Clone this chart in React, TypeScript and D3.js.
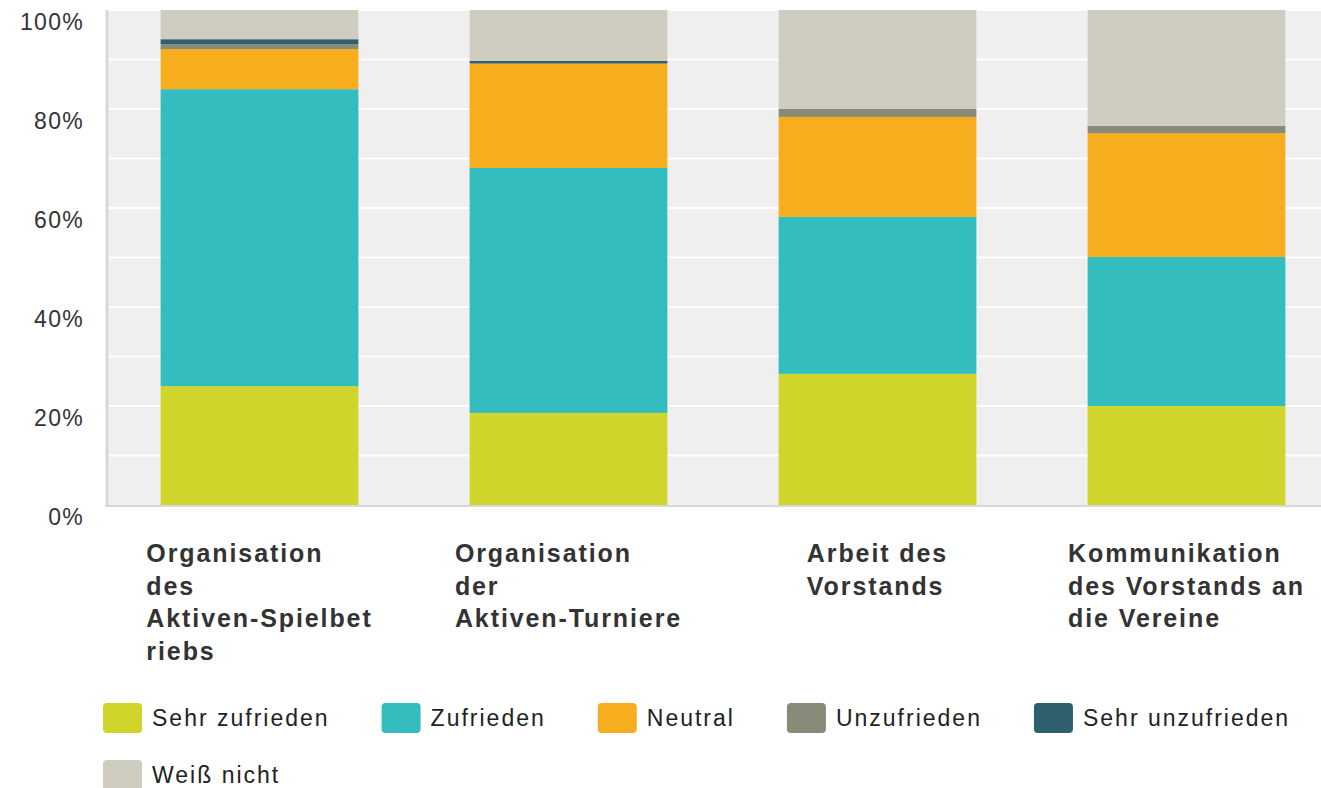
import React, { useEffect, useRef } from "react";
import * as d3 from "d3";

const categories = [
  ["Organisation", "des", "Aktiven-Spielbet", "riebs"],
  ["Organisation", "der", "Aktiven-Turniere"],
  ["Arbeit des", "Vorstands"],
  ["Kommunikation", "des Vorstands an", "die Vereine"],
];

const seriesNames = [
  "Sehr zufrieden",
  "Zufrieden",
  "Neutral",
  "Unzufrieden",
  "Sehr unzufrieden",
  "Weiß nicht",
];

const sehrZufrieden = [24.0, 18.6, 26.5, 20.0];
const zufrieden = [60.0, 49.5, 31.7, 30.1];
const neutral = [8.1, 21.0, 20.2, 25.0];
const unzufrieden = [1.0, 0.2, 1.6, 1.5];
const sehrUnzufrieden = [1.0, 0.4, 0, 0];
const weissNicht = [5.9, 10.3, 20.0, 23.4];

const yTicks = [0, 20, 40, 60, 80, 100];
const colors = ["#cfd52a", "#33bdbf", "#f6ae1f", "#8a8a78", "#2f5f6c", "#cfcdbf"];

const width = 1321;
const height = 788;
const margin = { top: 10, left: 108, bottom: 505 };

const App = () => {
  const ref = useRef<SVGSVGElement>(null);

  useEffect(() => {
    const svg = d3.select(ref.current);
    svg.selectAll("*").remove();

    const series = [sehrZufrieden, zufrieden, neutral, unzufrieden, sehrUnzufrieden, weissNicht];
    const rows = categories.map((c, i) => {
      const r: any = { idx: i };
      seriesNames.forEach((s, j) => (r[s] = series[j][i]));
      return r;
    });
    const stacked = d3.stack().keys(seriesNames)(rows);

    const x = d3
      .scaleBand()
      .domain(categories.map((_, i) => String(i)))
      .range([105, 1341])
      .paddingInner(0.36)
      .paddingOuter(0.18);
    const y = d3.scaleLinear().domain([0, 100]).range([margin.bottom, margin.top]);

    // plot background + grid
    svg
      .append("rect")
      .attr("x", margin.left)
      .attr("y", margin.top)
      .attr("width", width - margin.left)
      .attr("height", margin.bottom - margin.top)
      .attr("fill", "#efefef");

    svg
      .append("g")
      .selectAll("line")
      .data(d3.range(10, 101, 10))
      .enter()
      .append("line")
      .attr("x1", margin.left)
      .attr("x2", width)
      .attr("y1", (d) => y(d))
      .attr("y2", (d) => y(d))
      .attr("stroke", "#fff")
      .attr("stroke-width", 2);

    // bars
    svg
      .append("g")
      .selectAll("g")
      .data(stacked)
      .enter()
      .append("g")
      .attr("fill", (_, i) => colors[i])
      .selectAll("rect")
      .data((d) => d)
      .enter()
      .append("rect")
      .attr("x", (d: any) => x(String(d.data.idx)))
      .attr("width", x.bandwidth())
      .attr("y", (d) => y(d[1]))
      .attr("height", (d) => y(d[0]) - y(d[1]));

    // axis lines
    svg
      .append("line")
      .attr("x1", 107)
      .attr("x2", 107)
      .attr("y1", margin.top)
      .attr("y2", margin.bottom + 2)
      .attr("stroke", "#d8d8d8")
      .attr("stroke-width", 3);
    svg
      .append("line")
      .attr("x1", 105)
      .attr("x2", width)
      .attr("y1", margin.bottom + 1)
      .attr("y2", margin.bottom + 1)
      .attr("stroke", "#d8d8d8")
      .attr("stroke-width", 2);

    // y tick labels
    svg
      .append("g")
      .selectAll("text")
      .data(yTicks)
      .enter()
      .append("text")
      .attr("x", 84)
      .attr("y", (d) => y(d) + 20)
      .attr("text-anchor", "end")
      .attr("font-family", "Liberation Sans, Arial, sans-serif")
      .attr("font-size", 23)
      .attr("letter-spacing", 1.3)
      .attr("fill", "#333")
      .text((d) => `${d}%`);

    // category labels: block centred under bar, lines left-aligned
    categories.forEach((lines, i) => {
      const t = svg
        .append("text")
        .attr("font-family", "Liberation Sans, Arial, sans-serif")
        .attr("font-weight", "bold")
        .attr("font-size", 25)
        .attr("letter-spacing", 1.9)
        .attr("fill", "#333");
      lines.forEach((l, k) => {
        t.append("tspan").attr("x", 0).attr("y", 562 + k * 32.5).text(l);
      });
      const w = (t.node() as SVGTextElement).getBBox().width;
      const cx = (x(String(i)) as number) + x.bandwidth() / 2;
      t.attr("transform", `translate(${cx - w / 2},0)`);
    });

    // legend
    const legend = svg.append("g");
    let lx = 103;
    let ly = 703;
    seriesNames.forEach((s, i) => {
      const g = legend.append("g");
      g.append("rect")
        .attr("width", 39)
        .attr("height", 30)
        .attr("rx", 4)
        .attr("fill", colors[i]);
      const t = g
        .append("text")
        .attr("x", 49)
        .attr("y", 23)
        .attr("font-family", "Liberation Sans, Arial, sans-serif")
        .attr("font-size", 23)
        .attr("letter-spacing", 2)
        .attr("fill", "#222")
        .text(s);
      const w = 49 + (t.node() as SVGTextElement).getComputedTextLength();
      if (lx + w > width - 10) {
        lx = 103;
        ly += 57;
      }
      g.attr("transform", `translate(${lx},${ly})`);
      lx += w + 52;
    });
  }, []);

  return (
    <svg
      ref={ref}
      width={width}
      height={height}
      style={{ position: "absolute", left: 0, top: 0, background: "#fff" }}
    />
  );
};

export default App;
